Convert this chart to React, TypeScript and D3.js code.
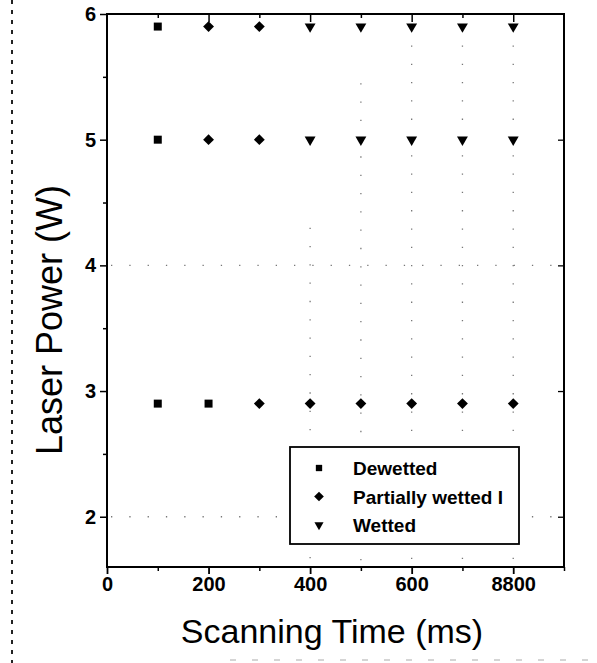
import React, { useRef, useEffect } from "react";
import * as d3 from "d3";

// data
const dewettedTime = [100, 100, 100, 200];
const dewettedPower = [5.9, 5.0, 2.9, 2.9];

const partialTime = [200, 300, 200, 300, 300, 400, 500, 600, 700, 800];
const partialPower = [5.9, 5.9, 5.0, 5.0, 2.9, 2.9, 2.9, 2.9, 2.9, 2.9];

const wettedTime = [400, 500, 600, 700, 800, 400, 500, 600, 700, 800];
const wettedPower = [5.9, 5.9, 5.9, 5.9, 5.9, 5.0, 5.0, 5.0, 5.0, 5.0];

const xTickValues = [0, 200, 400, 600, 800];
const xTickLabels = ["0", "200", "400", "600", "8800"];
const yTickValues = [2, 3, 4, 5, 6];
const legendLabels = ["Dewetted", "Partially wetted I", "Wetted"];

const App = () => {
  const svgRef = useRef(null);

  useEffect(() => {
    const svg = d3.select(svgRef.current);
    svg.selectAll("*").remove();

    const left = 107, right = 564, top = 14, bottom = 567;
    const x = d3.scaleLinear().domain([0, 900]).range([left, right]);
    const y = d3.scaleLinear().domain([1.6, 6]).range([bottom, top]);
    const font = "'Liberation Sans', Arial, sans-serif";

    // page border dashes (scan leftovers)
    svg.append("line")
      .attr("x1", 12).attr("x2", 12).attr("y1", 0).attr("y2", 663)
      .attr("stroke", "#222").attr("stroke-width", 2)
      .attr("stroke-dasharray", "4,6");
    svg.append("line")
      .attr("x1", 230).attr("x2", 597).attr("y1", 660).attr("y2", 660)
      .attr("stroke", "#aaa").attr("stroke-width", 1)
      .attr("stroke-dasharray", "6,16");

    // faint dotted grid
    const grid = svg.append("g").attr("stroke", "#777").attr("stroke-width", 1.3)
      .attr("stroke-dasharray", "1.3,17");
    [400, 500, 600, 700, 800].forEach((v) => {
      grid.append("line")
        .attr("x1", x(v)).attr("x2", x(v))
        .attr("y1", y(v >= 600 ? 5.75 : v === 500 ? 5.45 : 4.3)).attr("y2", bottom - 4);
    });
    [4, 2].forEach((v) => {
      grid.append("line")
        .attr("x1", left + 4).attr("x2", right - 4)
        .attr("y1", y(v)).attr("y2", y(v));
    });

    // bottom axis
    svg.append("g")
      .attr("transform", `translate(0, ${bottom})`)
      .call(d3.axisBottom(x).tickValues(xTickValues).tickSize(7).tickPadding(3)
        .tickFormat((d, i) => xTickLabels[i]))
      .call((g) => g.select(".domain").remove())
      .call((g) => g.selectAll("line").attr("stroke", "#000").attr("stroke-width", 1.8))
      .call((g) => g.selectAll("text").attr("fill", "#000")
        .style("font-family", font).style("font-size", "20px").style("font-weight", "bold"));
    svg.append("g")
      .attr("transform", `translate(0, ${bottom})`)
      .call(d3.axisBottom(x).tickValues([100, 300, 500, 700, 900]).tickSize(4).tickFormat(() => ""))
      .call((g) => g.select(".domain").remove())
      .call((g) => g.selectAll("line").attr("stroke", "#000").attr("stroke-width", 1.5));

    // top axis, inward ticks
    svg.append("g")
      .attr("transform", `translate(0, ${top})`)
      .call(d3.axisBottom(x).tickValues([200, 400, 600, 800]).tickSize(8).tickFormat(() => ""))
      .call((g) => g.select(".domain").remove())
      .call((g) => g.selectAll("line").attr("stroke", "#000").attr("stroke-width", 1.5));
    svg.append("g")
      .attr("transform", `translate(0, ${top})`)
      .call(d3.axisBottom(x).tickValues([100, 300, 500, 700]).tickSize(4).tickFormat(() => ""))
      .call((g) => g.select(".domain").remove())
      .call((g) => g.selectAll("line").attr("stroke", "#000").attr("stroke-width", 1.5));

    // left axis
    svg.append("g")
      .attr("transform", `translate(${left}, 0)`)
      .call(d3.axisLeft(y).tickValues(yTickValues).tickSize(7).tickPadding(4)
        .tickFormat(d3.format("d")))
      .call((g) => g.select(".domain").remove())
      .call((g) => g.selectAll("line").attr("stroke", "#000").attr("stroke-width", 1.5))
      .call((g) => g.selectAll("text").attr("fill", "#000")
        .style("font-family", font).style("font-size", "20px").style("font-weight", "bold"));
    svg.append("g")
      .attr("transform", `translate(${left}, 0)`)
      .call(d3.axisLeft(y).tickValues([2.5, 3.5, 4.5, 5.5]).tickSize(4).tickFormat(() => ""))
      .call((g) => g.select(".domain").remove())
      .call((g) => g.selectAll("line").attr("stroke", "#000").attr("stroke-width", 1.5));

    // right axis, inward ticks
    svg.append("g")
      .attr("transform", `translate(${right}, 0)`)
      .call(d3.axisRight(y).tickValues([2, 3, 4, 5]).tickSize(-6).tickFormat(() => ""))
      .call((g) => g.select(".domain").remove())
      .call((g) => g.selectAll("line").attr("stroke", "#000").attr("stroke-width", 1.3));

    // frame
    svg.append("rect")
      .attr("x", left).attr("y", top)
      .attr("width", right - left).attr("height", bottom - top)
      .attr("fill", "none").attr("stroke", "#000").attr("stroke-width", 2);

    // markers
    const square = d3.symbol().type(d3.symbolSquare).size(64);
    const diamond = d3.symbol().type(d3.symbolDiamond2).size(75);
    const triangle = d3.symbol().type(d3.symbolTriangle2).size(85);

    const series = [
      { t: dewettedTime, p: dewettedPower, sym: square, rot: 0 },
      { t: partialTime, p: partialPower, sym: diamond, rot: 0 },
      { t: wettedTime, p: wettedPower, sym: triangle, rot: 180 },
    ];
    series.forEach((s) => {
      svg.append("g")
        .selectAll("path")
        .data(s.t.map((t, i) => ({ t, p: s.p[i] })))
        .join("path")
        .attr("d", s.sym())
        .attr("fill", "#000")
        .attr("transform", (d) => `translate(${x(d.t)}, ${y(d.p)}) rotate(${s.rot})`);
    });

    // legend
    const lg = svg.append("g");
    lg.append("rect")
      .attr("x", 290).attr("y", 447).attr("width", 229).attr("height", 97)
      .attr("fill", "#fff").attr("stroke", "#000").attr("stroke-width", 1.8);
    const legendSyms = [
      d3.symbol().type(d3.symbolSquare).size(40),
      d3.symbol().type(d3.symbolDiamond2).size(60),
      d3.symbol().type(d3.symbolTriangle2).size(60),
    ];
    legendLabels.forEach((lab, i) => {
      const cy = 468 + i * 28.5;
      lg.append("path")
        .attr("d", legendSyms[i]())
        .attr("fill", "#000")
        .attr("transform", `translate(319, ${cy}) rotate(${i === 2 ? 180 : 0})`);
      lg.append("text")
        .attr("x", 353).attr("y", cy + 7)
        .style("font-family", font).style("font-size", "19px").style("font-weight", "bold")
        .attr("fill", "#000")
        .text(lab);
    });

    // axis titles
    svg.append("text")
      .attr("x", 332).attr("y", 643)
      .attr("text-anchor", "middle")
      .style("font-family", font).style("font-size", "34px")
      .attr("fill", "#000")
      .text("Scanning Time (ms)");
    svg.append("text")
      .attr("transform", "translate(62, 320) rotate(-90)")
      .attr("text-anchor", "middle")
      .style("font-family", font).style("font-size", "36px")
      .attr("fill", "#000")
      .text("Laser Power (W)");
  }, []);

  return (
    <svg
      ref={svgRef}
      width={597}
      height={663}
      style={{ position: "absolute", left: 0, top: 0, background: "#fff" }}
    ></svg>
  );
};

export default App;
